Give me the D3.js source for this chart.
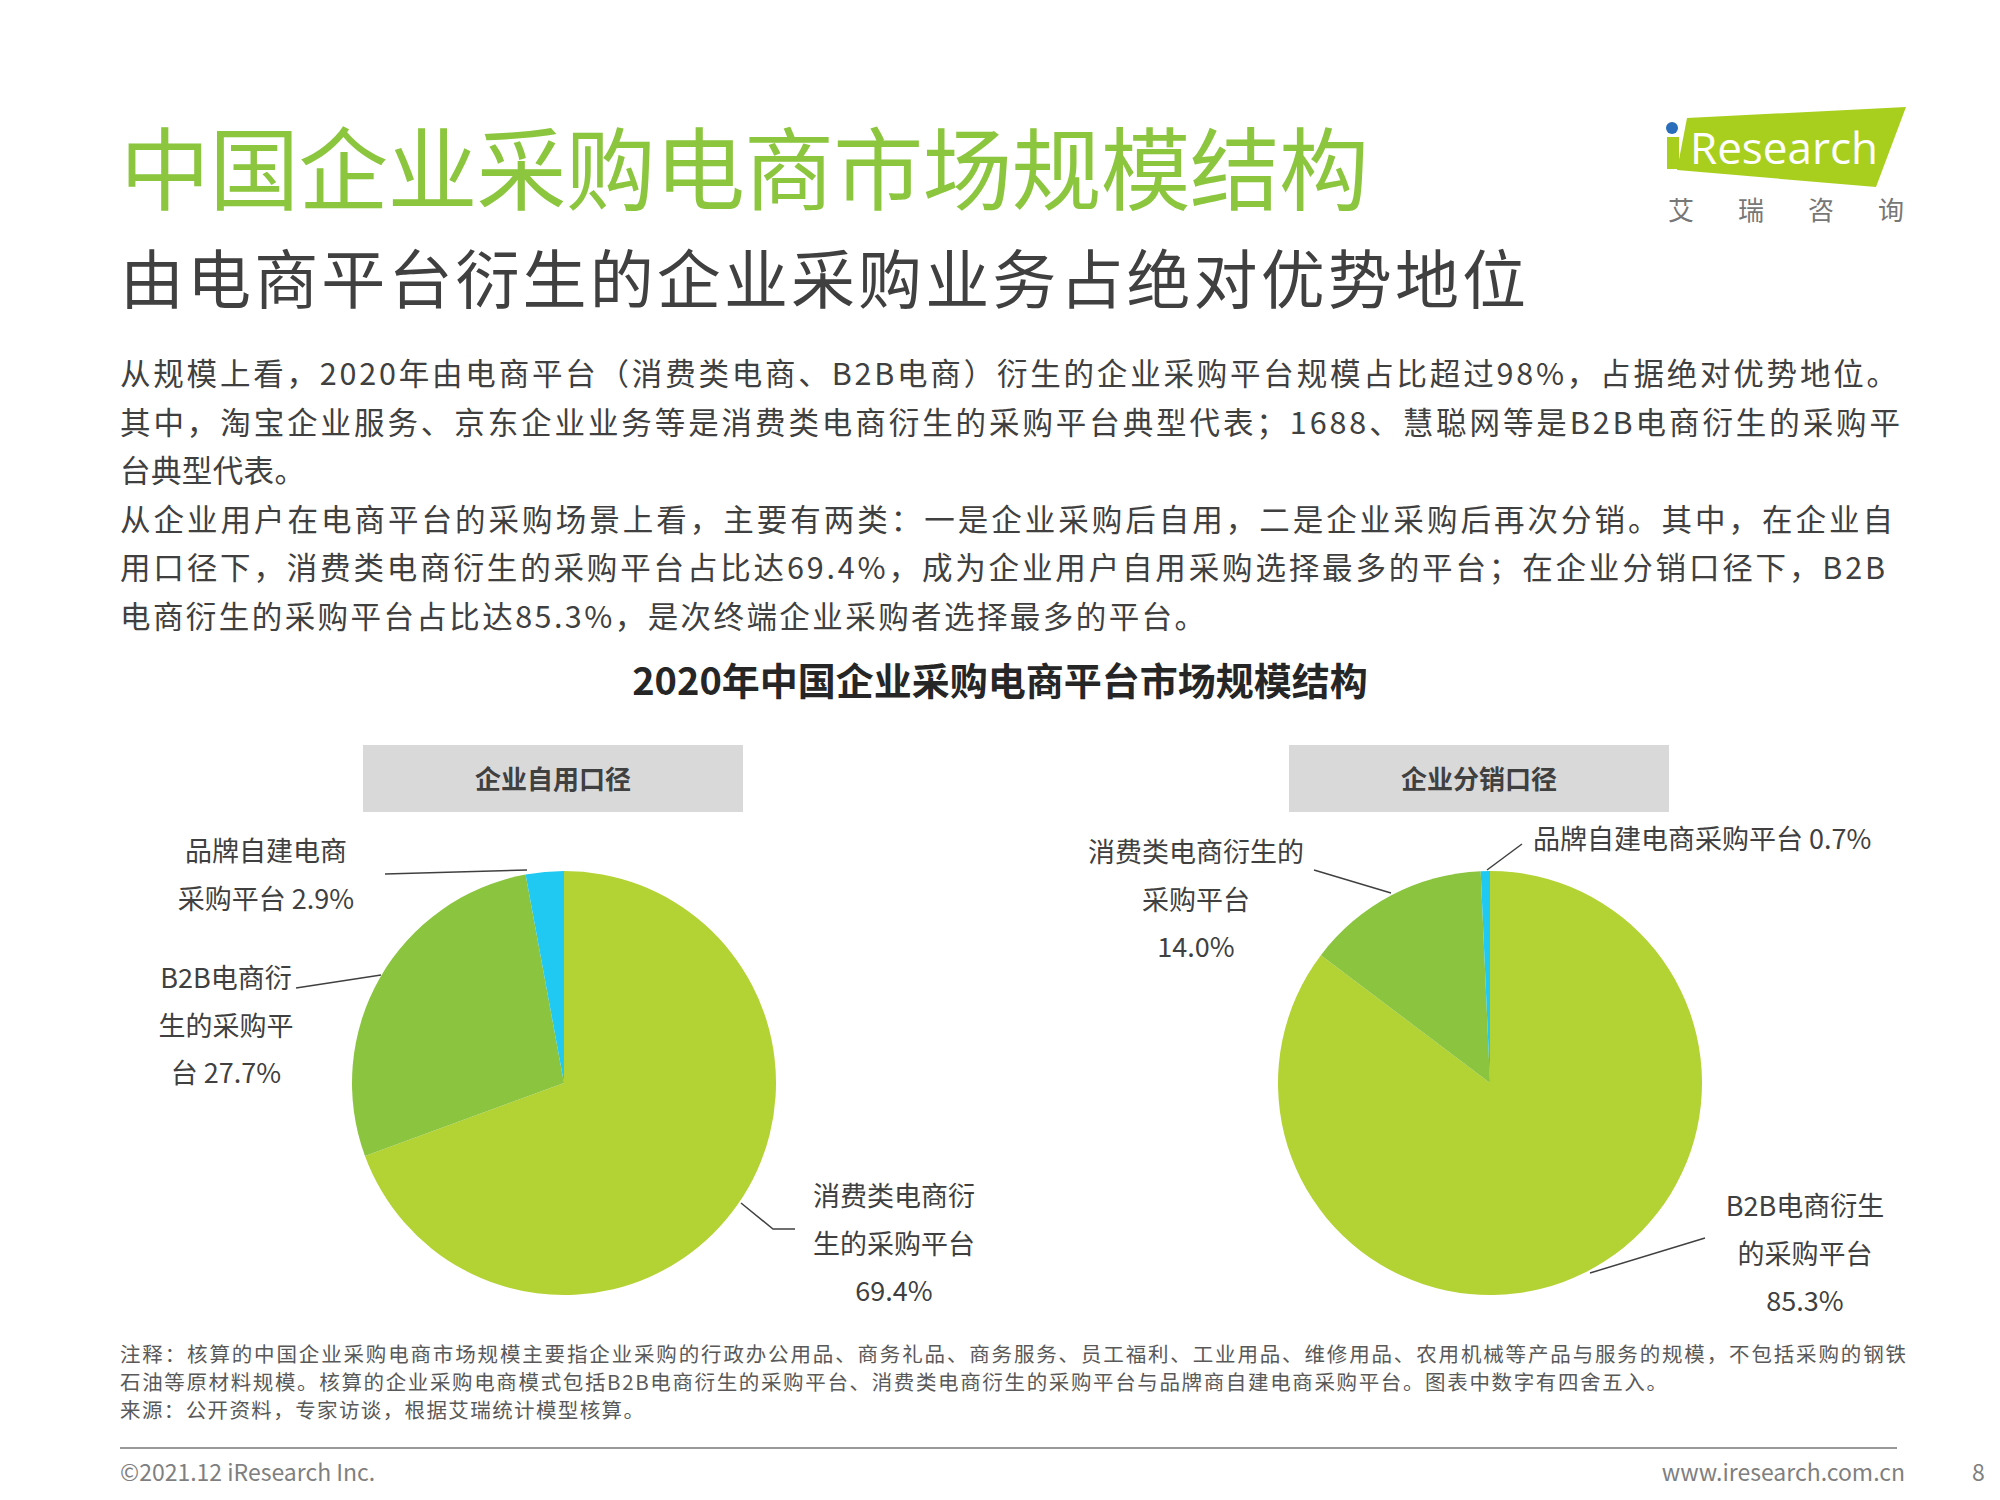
<!DOCTYPE html>
<html><head><meta charset="utf-8">
<script src="https://cdn.jsdelivr.net/npm/d3@7"></script>
<style>body{margin:0;background:#fff}svg{font-family:"Noto Sans CJK SC","Noto Sans",sans-serif}</style>
</head><body>
<svg id="c" width="2000" height="1500"></svg>
<script>
// data
const leftNames = ['消费类电商衍生的采购平台', 'B2B电商衍生的采购平台', '品牌自建电商采购平台']
const leftValues = [69.4, 27.7, 2.9]
const rightNames = ['B2B电商衍生的采购平台', '消费类电商衍生的采购平台', '品牌自建电商采购平台']
const rightValues = [85.3, 14.0, 0.7]
const sliceColors = ['#b3d234', '#8bc43f', '#1fc9f2']

const bodyLines = [
  '从规模上看，2020年由电商平台（消费类电商、B2B电商）衍生的企业采购平台规模占比超过98%，占据绝对优势地位。',
  '其中，淘宝企业服务、京东企业业务等是消费类电商衍生的采购平台典型代表；1688、慧聪网等是B2B电商衍生的采购平',
  '台典型代表。',
  '从企业用户在电商平台的采购场景上看，主要有两类：一是企业采购后自用，二是企业采购后再次分销。其中，在企业自',
  '用口径下，消费类电商衍生的采购平台占比达69.4%，成为企业用户自用采购选择最多的平台；在企业分销口径下，B2B',
  '电商衍生的采购平台占比达85.3%，是次终端企业采购者选择最多的平台。'
]
const bodyWidths = [1777, 1780, 185, 1773, 1765, 1085]
const notes = [
  '注释：核算的中国企业采购电商市场规模主要指企业采购的行政办公用品、商务礼品、商务服务、员工福利、工业用品、维修用品、农用机械等产品与服务的规模，不包括采购的钢铁',
  '石油等原材料规模。核算的企业采购电商模式包括B2B电商衍生的采购平台、消费类电商衍生的采购平台与品牌商自建电商采购平台。图表中数字有四舍五入。',
  '来源：公开资料，专家访谈，根据艾瑞统计模型核算。'
]
const noteWidths = [1786, 1547, 524]

const svg = d3.select('#c')
const txt = '#404040'

svg.append('text').attr('x', 120).attr('y', 203).attr('font-size', 90).attr('fill', '#8cc63e')
  .attr('textLength', 1249).text('中国企业采购电商市场规模结构')
svg.append('text').attr('x', 120).attr('y', 303).attr('font-size', 64).attr('fill', txt)
  .attr('textLength', 1406).text('由电商平台衍生的企业采购业务占绝对优势地位')
bodyLines.forEach((l, i) => {
  svg.append('text').attr('x', 120).attr('y', 385 + i * 48.5).attr('font-size', 30.5).attr('fill', txt)
    .attr('textLength', bodyWidths[i]).text(l)
})

// logo
svg.append('polygon').attr('points', '1687,118 1906,107 1876,187 1677,170').attr('fill', '#a8cf1e')
svg.append('rect').attr('x', 1667).attr('y', 137).attr('width', 12).attr('height', 32).attr('fill', '#a8cf1e')
svg.append('circle').attr('cx', 1672).attr('cy', 128).attr('r', 6).attr('fill', '#2a6ebb')
svg.append('text').attr('x', 1690).attr('y', 164).attr('font-size', 44).attr('fill', '#fff')
  .attr('font-family', 'Open Sans').text('Research')
;['艾', '瑞', '咨', '询'].forEach((c, i) => {
  svg.append('text').attr('x', 1668 + i * 70).attr('y', 220).attr('font-size', 26).attr('fill', '#777').text(c)
})

svg.append('text').attr('x', 1000).attr('y', 695).attr('text-anchor', 'middle').attr('font-size', 38)
  .attr('font-weight', 'bold').attr('fill', '#262626').text('2020年中国企业采购电商平台市场规模结构')

function drawPie(cx, title, names, values, labels) {
  svg.append('rect').attr('x', cx - 201).attr('y', 745).attr('width', 380).attr('height', 67).attr('fill', '#d9d9d9')
  svg.append('text').attr('x', cx - 11).attr('y', 789).attr('text-anchor', 'middle').attr('font-size', 26)
    .attr('font-weight', 'bold').attr('fill', txt).text(title)
  const pie = d3.pie().sort(null)(values)
  const arc = d3.arc().innerRadius(0).outerRadius(212)
  const g = svg.append('g').attr('transform', `translate(${cx},1083)`)
  g.selectAll('path').data(pie).join('path').attr('d', arc).attr('fill', (d, i) => sliceColors[i])
  labels.forEach(lb => {
    lb.lines.forEach((l, i) => {
      svg.append('text').attr('x', lb.x).attr('y', lb.y + i * 47.5).attr('text-anchor', lb.anchor || 'middle')
        .attr('font-size', 27).attr('fill', txt).text(l)
    })
    svg.append('polyline').attr('points', lb.line.map(p => p.join(',')).join(' '))
      .attr('fill', 'none').attr('stroke', '#404040').attr('stroke-width', 1.5)
  })
}

drawPie(564, '企业自用口径', leftNames, leftValues, [
  { x: 266, y: 861, lines: ['品牌自建电商', '采购平台 ' + leftValues[2] + '%'], line: [[385, 874], [527, 870]] },
  { x: 226, y: 988, lines: ['B2B电商衍', '生的采购平', '台 ' + leftValues[1] + '%'], line: [[296, 988], [381, 975]] },
  { x: 894, y: 1206, lines: ['消费类电商衍', '生的采购平台', leftValues[0] + '%'], line: [[795, 1229], [773, 1229], [741, 1203]] }
])
drawPie(1490, '企业分销口径', rightNames, rightValues, [
  { x: 1196, y: 862, lines: ['消费类电商衍生的', '采购平台', rightValues[1].toFixed(1) + '%'], line: [[1314, 870], [1391, 893]] },
  { x: 1533, y: 849, anchor: 'start', lines: ['品牌自建电商采购平台 ' + rightValues[2] + '%'], line: [[1522, 844], [1487, 870]] },
  { x: 1805, y: 1216, lines: ['B2B电商衍生', '的采购平台', rightValues[0] + '%'], line: [[1705, 1238], [1590, 1273]] }
])

notes.forEach((l, i) => {
  svg.append('text').attr('x', 120).attr('y', 1362 + i * 28).attr('font-size', 20.5).attr('fill', '#595959')
    .attr('textLength', noteWidths[i]).text(l)
})
svg.append('line').attr('x1', 120).attr('x2', 1897).attr('y1', 1448).attr('y2', 1448).attr('stroke', '#999').attr('stroke-width', 2)
svg.append('text').attr('x', 120).attr('y', 1481).attr('font-size', 23).attr('fill', '#7f7f7f').text('©2021.12 iResearch Inc.')
svg.append('text').attr('x', 1905).attr('y', 1481).attr('text-anchor', 'end').attr('font-size', 23).attr('fill', '#7f7f7f').text('www.iresearch.com.cn')
svg.append('text').attr('x', 1972).attr('y', 1481).attr('font-size', 23).attr('fill', '#7f7f7f').text('8')
</script>
</body></html>
